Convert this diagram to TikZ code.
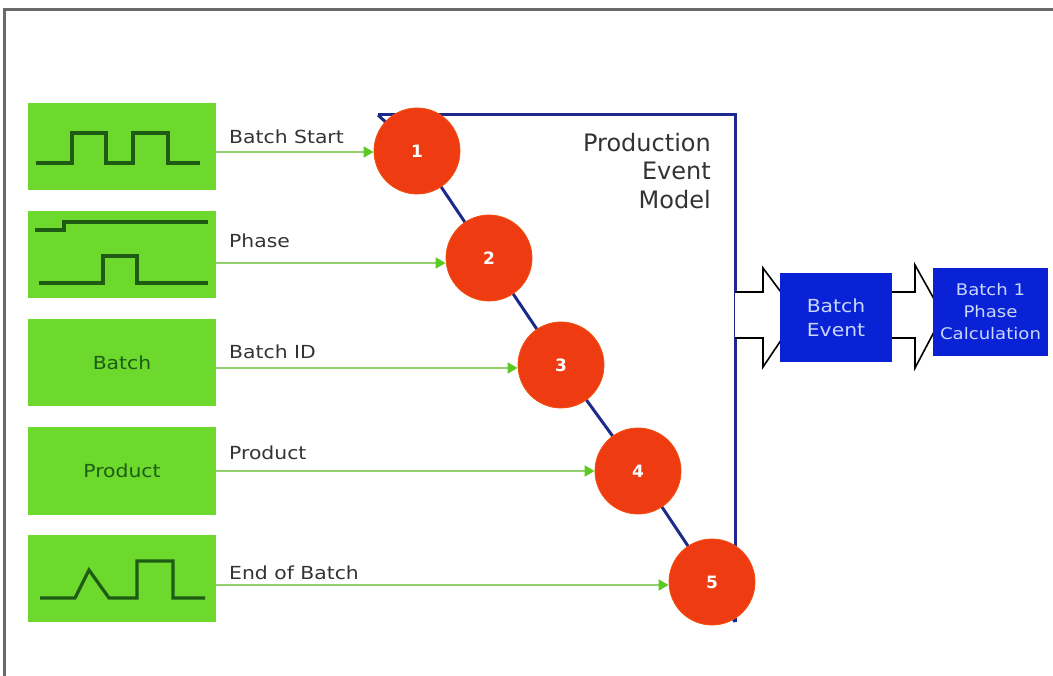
\documentclass[tikz,border=0pt]{standalone}
\usepackage{fontspec}
\setmainfont{DejaVu Sans}
\newfontfamily\widefont[FakeStretch=1.13]{DejaVu Sans}
\usetikzlibrary{arrows.meta,calc}
\definecolor{gfill}{HTML}{6CD92C}
\definecolor{gdark}{HTML}{1E5C14}
\definecolor{gline}{HTML}{8FCF6E}
\definecolor{ghead}{HTML}{5BCB22}
\definecolor{rfill}{HTML}{EE3B12}
\definecolor{navy}{HTML}{1C2A8C}
\definecolor{bfill}{HTML}{0A22D6}
\definecolor{btext}{HTML}{C9D6FF}
\definecolor{txt}{HTML}{333333}
\definecolor{frame}{HTML}{6A6A6A}
\begin{document}
\begin{tikzpicture}[x=1pt,y=-1pt,
  gbox/.style={rectangle,fill=gfill,draw=none,minimum width=188pt,minimum height=87pt,inner sep=0pt,font=\widefont\fontsize{18}{20}\selectfont,text=gdark},
  sig/.style={draw=gdark,line width=3.2pt},
  garrow/.style={draw=gline,line width=1.8pt,-{Triangle[length=10pt,width=11pt,fill=ghead,color=ghead]}},
  lbl/.style={anchor=base west,font=\widefont\fontsize{18}{20}\selectfont,text=txt,inner sep=0pt},
  circ/.style={circle,fill=rfill,draw=rfill!70!orange,line width=0.8pt,minimum size=86pt,inner sep=0pt,text=white,font=\bfseries\fontsize{17}{19}\selectfont},
  model/.style={draw=navy,line width=3pt},
  bbox/.style={rectangle,fill=bfill,draw=none,inner sep=0pt,text=btext,align=center},
  hollow/.style={draw=black,fill=white,line width=1.6pt,line join=miter}
]
\useasboundingbox (0,0) rectangle (1053,676);
% frame (top and left only)
\draw[frame,line width=3pt] (4,676) -- (4,10) -- (1053,10);

% green source boxes
\node[gbox] (g1) at (122,146.5) {};
\node[gbox] (g2) at (122,254.5) {};
\node[gbox] (g3) at (122,362.5) {Batch};
\node[gbox] (g4) at (122,471) {Product};
\node[gbox] (g5) at (122,578.5) {};

% signals
\draw[sig] (36,163) -- (72,163) -- (72,133) -- (106,133) -- (106,163) -- (133,163) -- (133,133) -- (168,133) -- (168,163) -- (200,163);
\draw[sig] (35,230) -- (64,230) -- (64,222) -- (208,222);
\draw[sig] (39,283) -- (103,283) -- (103,256) -- (137,256) -- (137,283) -- (208,283);
\draw[sig] (40,598) -- (75,598) -- (89,570) -- (109,598) -- (137,598) -- (137,561) -- (173,561) -- (173,598) -- (205,598);

% model outline
\coordinate (mtl) at (378,115);
\coordinate (mtr) at (735,115);
\coordinate (mbr) at (735,622);
\draw[model] (mtl) -- (mtr) -- (mbr);

% circles positions
\coordinate (p1) at (417,151);
\coordinate (p2) at (489,258);
\coordinate (p3) at (561,365);
\coordinate (p4) at (638,471);
\coordinate (p5) at (712,582);
\draw[model] (mtl) -- (p1) -- (p2) -- (p3) -- (p4) -- (p5) -- (mbr);
\node[circ] (c1) at (p1) {1};
\node[circ] (c2) at (p2) {2};
\node[circ] (c3) at (p3) {3};
\node[circ] (c4) at (p4) {4};
\node[circ] (c5) at (p5) {5};

% arrows into circles
\draw[garrow] (g1.east |- 0,152) -- (c1.west |- 0,152);
\draw[garrow] (g2.east |- 0,263) -- (c2.west |- 0,263);
\draw[garrow] (g3.east |- 0,368) -- (c3.west |- 0,368);
\draw[garrow] (g4.east |- c4) -- (c4.west);
\draw[garrow] (g5.east |- 0,585) -- (c5.west |- 0,585);

% labels
\node[lbl] (l1) at (229,144) {Batch Start};
\node[lbl] (l2) at (229,248) {Phase};
\node[lbl] (l3) at (229,359) {Batch ID};
\node[lbl] (l4) at (229,459) {Product};
\node[lbl] (l5) at (229,579) {End of Batch};

% model title
\node[anchor=north east,align=right,text=txt,font=\fontsize{24}{28.5}\selectfont,inner sep=0pt] (title) at (711,133) {Production\\Event\\Model};

% hollow arrows
\draw[hollow] (735,292) -- (763,292) -- (763,268) -- (798,315) -- (763,367) -- (763,338) -- (735,338);
\draw[hollow] (892,292) -- (915,292) -- (915,265) -- (943,315) -- (915,368) -- (915,338) -- (892,338);

% blue boxes
\node[bbox,minimum width=112pt,minimum height=89pt,font=\widefont\fontsize{18}{24}\selectfont] (be) at (836,317.5) {Batch\\Event};
\node[bbox,minimum width=115pt,minimum height=88pt,font=\widefont\fontsize{16}{22}\selectfont] (bc) at (990.5,312) {Batch 1\\Phase\\Calculation};
\end{tikzpicture}
\end{document}
